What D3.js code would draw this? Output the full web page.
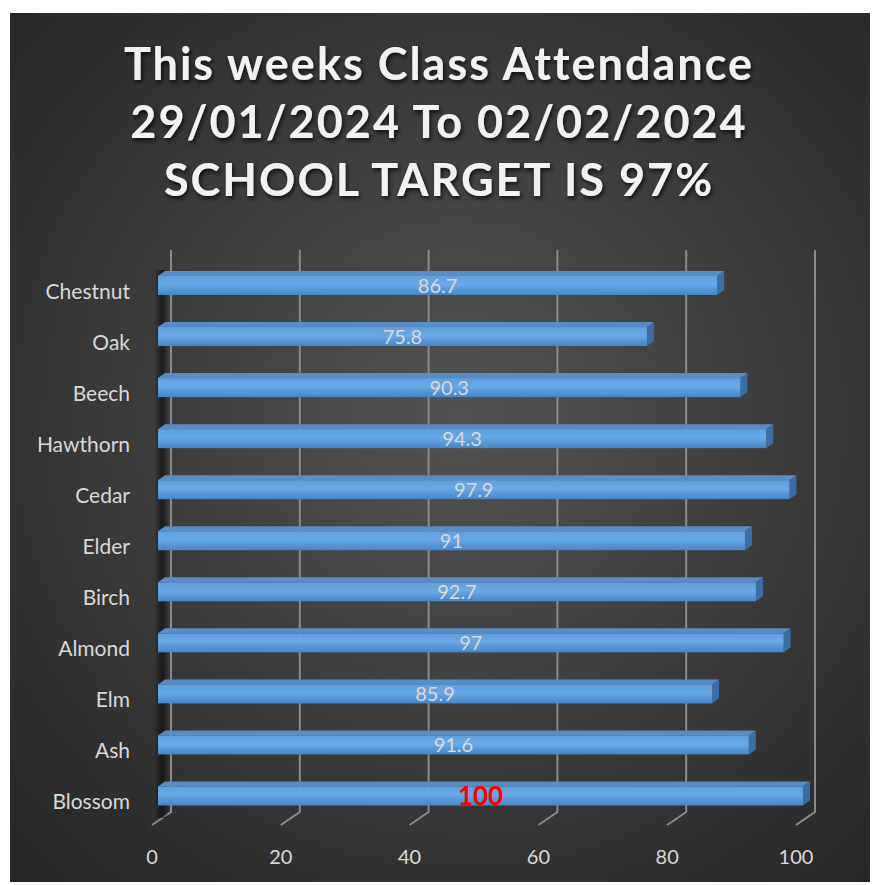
<!DOCTYPE html>
<html>
<head>
<meta charset="utf-8">
<script src="https://cdn.jsdelivr.net/npm/d3@7"></script>
<style>
  body { margin: 0; background: #fff; }
  svg { display: block; }
</style>
</head>
<body>
<div id="chart"></div>
<script>
const titleLines = [
  "This weeks Class Attendance",
  "29/01/2024 To 02/02/2024",
  "SCHOOL TARGET IS 97%"
]
const classes = ["Chestnut", "Oak", "Beech", "Hawthorn", "Cedar", "Elder", "Birch", "Almond", "Elm", "Ash", "Blossom"]
const attendance = [86.7, 75.8, 90.3, 94.3, 97.9, 91, 92.7, 97, 85.9, 91.6, 100]
const xTicks = [0, 20, 40, 60, 80, 100]
const highlight = "Blossom"

const data = classes.map((c, i) => ({ name: c, value: attendance[i] }))

const w = 878
const h = 885
const font = "Lato, 'Open Sans', sans-serif"

const svg = d3.select("#chart").append("svg")
    .attr("width", w)
    .attr("height", h)

const defs = svg.append("defs")

const bg = defs.append("radialGradient")
    .attr("id", "bg")
    .attr("gradientUnits", "userSpaceOnUse")
    .attr("cx", 460).attr("cy", 420).attr("r", 620)
bg.append("stop").attr("offset", "0%").attr("stop-color", "#535353")
bg.append("stop").attr("offset", "100%").attr("stop-color", "#262626")

const front = defs.append("linearGradient")
    .attr("id", "front").attr("x1", 0).attr("y1", 0).attr("x2", 0).attr("y2", 1)
front.append("stop").attr("offset", "0%").attr("stop-color", "#5f9fdc")
front.append("stop").attr("offset", "45%").attr("stop-color", "#69a9e6")
front.append("stop").attr("offset", "100%").attr("stop-color", "#4584c8")

const wallShade = defs.append("linearGradient")
    .attr("id", "wall").attr("x1", 0).attr("y1", 0).attr("x2", 1).attr("y2", 0)
wallShade.append("stop").attr("offset", "0%").attr("stop-color", "#000").attr("stop-opacity", 0)
wallShade.append("stop").attr("offset", "60%").attr("stop-color", "#000").attr("stop-opacity", 0.55)
wallShade.append("stop").attr("offset", "100%").attr("stop-color", "#000").attr("stop-opacity", 0.1)

const shadow = defs.append("filter").attr("id", "shadow")
    .attr("x", "-10%").attr("y", "-20%").attr("width", "120%").attr("height", "150%")
shadow.append("feDropShadow")
    .attr("dx", 1.5).attr("dy", 2.5).attr("stdDeviation", 2)
    .attr("flood-color", "#000").attr("flood-opacity", 0.75)

// panel
svg.append("rect")
    .attr("x", 10).attr("y", 13)
    .attr("width", 860).attr("height", 869)
    .attr("fill", "url(#bg)")

// title
svg.append("g")
    .attr("filter", "url(#shadow)")
    .selectAll("text")
    .data(titleLines)
    .enter()
    .append("text")
    .attr("x", 439)
    .attr("y", (d, i) => 80 + i * 58)
    .attr("text-anchor", "middle")
    .attr("font-family", font)
    .attr("font-weight", "bold")
    .attr("font-size", 45)
    .attr("letter-spacing", 2)
    .attr("fill", "#f2f2f2")
    .text(d => d)

// scales: front face of bars, back wall, floor front edge
const x = d3.scaleLinear().domain([0, 100]).range([158, 803])
const xBack = d3.scaleLinear().domain([0, 100]).range([171, 815])
const xFloor = d3.scaleLinear().domain([0, 100]).range([152, 796])
const y = d3.scalePoint().domain(classes).range([285.5, 796])

const wallTop = 250
const wallBottom = 812
const floorY = 825
const barH = 19
const dx = 7
const dy = 5

// gridlines
svg.append("g")
    .selectAll("path")
    .data(xTicks)
    .enter()
    .append("path")
    .attr("d", d => `M${xBack(d)},${wallTop}V${wallBottom}L${xFloor(d)},${floorY}`)
    .attr("fill", "none")
    .attr("stroke", "#8a8a8a")
    .attr("stroke-width", 2)

// left wall shade
svg.append("rect")
    .attr("x", 154).attr("y", wallTop + 20)
    .attr("width", 14).attr("height", wallBottom - wallTop - 14)
    .attr("fill", "url(#wall)")

// bars
const bars = svg.append("g")
    .selectAll("g")
    .data(data)
    .enter()
    .append("g")

bars.append("path")
    .attr("d", d => {
        const x0 = x(0), x1 = x(d.value), t = y(d.name) - barH / 2
        return `M${x0},${t}L${x0 + dx},${t - dy}L${x1 + dx},${t - dy}L${x1},${t}Z`
    })
    .attr("fill", "#5a8cc4")

bars.append("path")
    .attr("d", d => {
        const x1 = x(d.value), t = y(d.name) - barH / 2
        return `M${x1},${t}L${x1 + dx},${t - dy}L${x1 + dx},${t + barH - dy}L${x1},${t + barH}Z`
    })
    .attr("fill", "#3c6ea6")

bars.append("rect")
    .attr("x", x(0))
    .attr("y", d => y(d.name) - barH / 2)
    .attr("width", d => x(d.value) - x(0))
    .attr("height", barH)
    .attr("fill", "url(#front)")

// value labels
bars.append("text")
    .attr("x", d => (x(0) + x(d.value)) / 2)
    .attr("y", d => y(d.name))
    .attr("dy", "0.36em")
    .attr("text-anchor", "middle")
    .attr("font-family", font)
    .attr("font-size", d => d.name === highlight ? 26 : 20)
    .attr("font-weight", d => d.name === highlight ? "bold" : "normal")
    .attr("fill", d => d.name === highlight ? "#ff0000" : "#d9d9d9")
    .text(d => d.value)

// category labels
svg.append("g")
    .selectAll("text")
    .data(classes)
    .enter()
    .append("text")
    .attr("x", 130)
    .attr("y", d => y(d) + 6)
    .attr("dy", "0.35em")
    .attr("text-anchor", "end")
    .attr("font-family", font)
    .attr("font-size", 21)
    .attr("fill", "#d9d9d9")
    .text(d => d)

// x tick labels
svg.append("g")
    .selectAll("text")
    .data(xTicks)
    .enter()
    .append("text")
    .attr("x", d => xFloor(d))
    .attr("y", 857)
    .attr("dy", "0.35em")
    .attr("text-anchor", "middle")
    .attr("font-family", font)
    .attr("font-size", 20)
    .attr("fill", "#d9d9d9")
    .text(d => d)
</script>
</body>
</html>
